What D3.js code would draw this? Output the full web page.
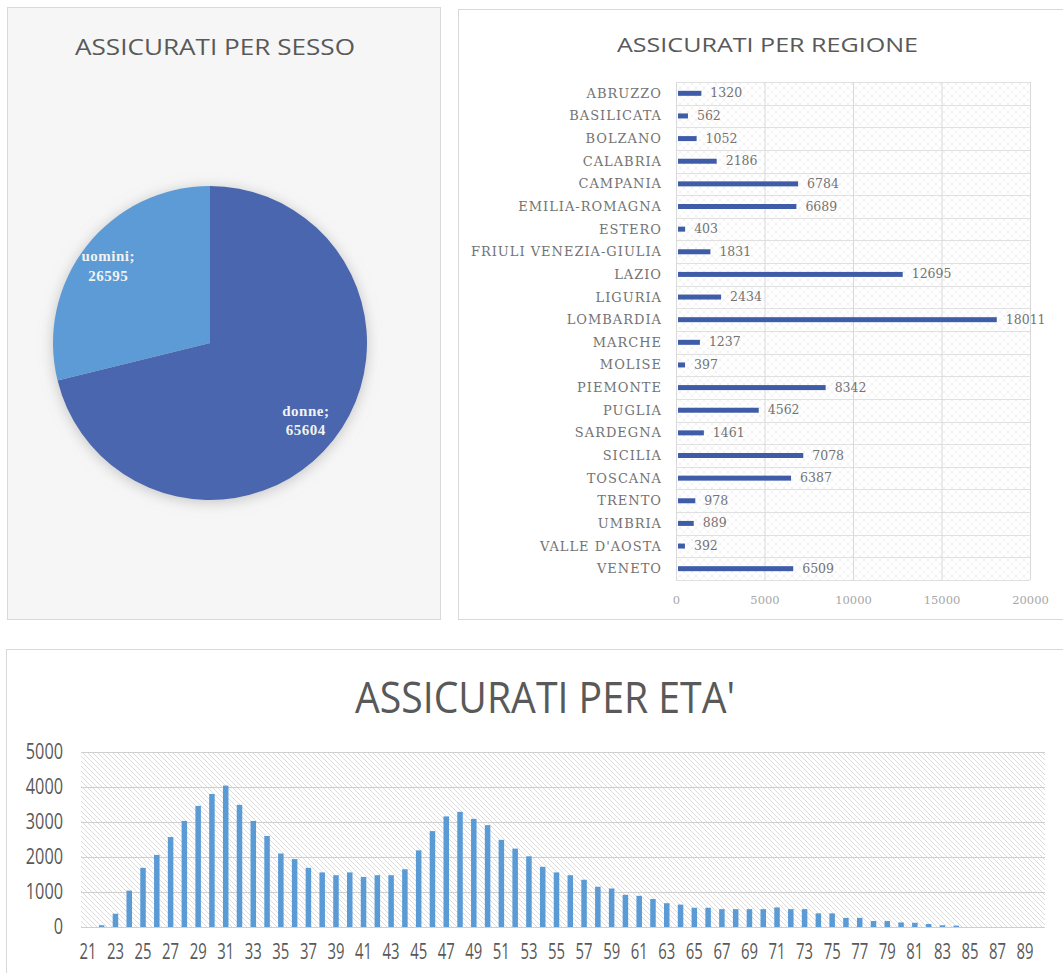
<!DOCTYPE html>
<html>
<head>
    <title>Assicurati</title>
    <script src="https://d3js.org/d3.v7.min.js"></script>
    <style>
        html, body {
            margin: 0;
            background: #fff;
            overflow: hidden;
        }
    </style>
</head>
<body>
    <svg id="chart" width="1063" height="973"></svg>

    <script>
        // --- data ---
        const sexLabels = ["donne", "uomini"];
        const sexValues = [65604, 26595];

        const regions = ["ABRUZZO", "BASILICATA", "BOLZANO", "CALABRIA", "CAMPANIA", "EMILIA-ROMAGNA",
            "ESTERO", "FRIULI VENEZIA-GIULIA", "LAZIO", "LIGURIA", "LOMBARDIA", "MARCHE", "MOLISE",
            "PIEMONTE", "PUGLIA", "SARDEGNA", "SICILIA", "TOSCANA", "TRENTO", "UMBRIA",
            "VALLE D'AOSTA", "VENETO"];
        const regionValues = [1320, 562, 1052, 2186, 6784, 6689, 403, 1831, 12695, 2434, 18011, 1237,
            397, 8342, 4562, 1461, 7078, 6387, 978, 889, 392, 6509];
        const regionTicks = [0, 5000, 10000, 15000, 20000];

        const ages = [21, 22, 23, 24, 25, 26, 27, 28, 29, 30, 31, 32, 33, 34, 35, 36, 37, 38, 39, 40,
            41, 42, 43, 44, 45, 46, 47, 48, 49, 50, 51, 52, 53, 54, 55, 56, 57, 58, 59, 60,
            61, 62, 63, 64, 65, 66, 67, 68, 69, 70, 71, 72, 73, 74, 75, 76, 77, 78, 79, 80,
            81, 82, 83, 84, 85, 86, 87, 88, 89];
        const ageValues = [0, 50, 380, 1040, 1690, 2060, 2570, 3030, 3460, 3800, 4040, 3490, 3030, 2600,
            2100, 1940, 1690, 1560, 1480, 1560, 1430, 1480, 1480, 1650, 2190, 2740, 3160, 3290, 3090,
            2910, 2490, 2240, 2020, 1720, 1560, 1480, 1350, 1150, 1100, 920, 890, 800, 680, 640, 550,
            550, 510, 510, 510, 510, 560, 510, 510, 390, 390, 260, 260, 170, 170, 130, 120, 85, 50,
            40, 0, 0, 0, 0, 0];
        const ageTicks = [0, 1000, 2000, 3000, 4000, 5000];

        const textColor = "#595959";
        const sansFont = "'Open Sans', sans-serif";
        const serifFont = "'DejaVu Serif', serif";

        const svg = d3.select("#chart");
        const defs = svg.append("defs");

        // pie shadow
        const shadow = defs.append("filter").attr("id", "pieShadow")
            .attr("x", "-20%").attr("y", "-20%").attr("width", "140%").attr("height", "140%");
        shadow.append("feDropShadow")
            .attr("dx", 0).attr("dy", 2)
            .attr("stdDeviation", 7)
            .attr("flood-color", "#9a9a9a")
            .attr("flood-opacity", 0.55);

        // dotted cross hatch for the region chart
        const cross = defs.append("pattern").attr("id", "crossHatch")
            .attr("patternUnits", "userSpaceOnUse").attr("width", 8).attr("height", 8);
        cross.append("path").attr("d", "M0,0 L8,8 M8,0 L0,8")
            .attr("stroke", "#e4e4e4").attr("stroke-width", 0.8).attr("stroke-dasharray", "1,1");

        // diagonal hatch for the age chart
        const diag = defs.append("pattern").attr("id", "diagHatch")
            .attr("patternUnits", "userSpaceOnUse").attr("width", 5).attr("height", 5);
        diag.append("path").attr("d", "M-1,-1 L6,6 M-1,4 L1,6 M4,-1 L6,1")
            .attr("stroke", "#dcdcdc").attr("stroke-width", 1);

        // ================= ASSICURATI PER SESSO =================
        svg.append("rect")
            .attr("x", 7.5).attr("y", 7.5).attr("width", 433).attr("height", 612)
            .attr("fill", "#f6f6f6").attr("stroke", "#d9d9d9");

        svg.append("text")
            .attr("x", 75).attr("y", 55)
            .attr("font-family", sansFont).attr("font-size", 22)
            .attr("textLength", 280).attr("lengthAdjust", "spacingAndGlyphs")
            .attr("fill", textColor)
            .text("ASSICURATI  PER SESSO");

        const pieR = 157;
        const pieG = svg.append("g").attr("transform", "translate(210,343)");
        const pie = d3.pie().sort(null).value(d => d.value);
        const sexData = pie(sexLabels.map((k, i) => ({label: k, value: sexValues[i]})));
        const sexColor = d3.scaleOrdinal().domain(sexLabels).range(["#4a66ae", "#5b9bd5"]);
        const arc = d3.arc().innerRadius(0).outerRadius(pieR);
        const labelArc = d3.arc().innerRadius(pieR * 0.8).outerRadius(pieR * 0.8);

        pieG.append("g").attr("filter", "url(#pieShadow)")
            .selectAll("path")
            .data(sexData)
            .join("path")
            .attr("d", arc)
            .attr("fill", d => sexColor(d.data.label));

        const sexLabel = pieG.selectAll(".slabel")
            .data(sexData)
            .join("text")
            .attr("class", "slabel")
            .attr("transform", d => `translate(${labelArc.centroid(d)})`)
            .attr("text-anchor", "middle")
            .attr("font-family", "'Liberation Serif', serif")
            .attr("font-weight", "bold")
            .attr("font-size", 15)
            .attr("letter-spacing", 0.5)
            .attr("fill", "#f2f2f2");
        sexLabel.append("tspan").attr("x", -3).attr("dy", "-0.3em").text(d => d.data.label + ";");
        sexLabel.append("tspan").attr("x", -3).attr("dy", "1.3em").text(d => d.data.value);

        // ================= ASSICURATI PER REGIONE =================
        svg.append("rect")
            .attr("x", 458.5).attr("y", 9.5).attr("width", 640).attr("height", 610)
            .attr("fill", "#fff").attr("stroke", "#d9d9d9");

        svg.append("text")
            .attr("x", 617).attr("y", 52)
            .attr("font-family", sansFont).attr("font-size", 20)
            .attr("textLength", 301).attr("lengthAdjust", "spacingAndGlyphs")
            .attr("fill", textColor)
            .text("ASSICURATI PER REGIONE");

        const rx = d3.scaleLinear().domain([0, 20000]).range([676, 1030]);
        const ry = d3.scaleBand().domain(regions).range([82, 580]);

        svg.append("rect")
            .attr("x", rx(0)).attr("y", ry.range()[0])
            .attr("width", rx(20000) - rx(0)).attr("height", ry.range()[1] - ry.range()[0])
            .attr("fill", "url(#crossHatch)");

        // row separators
        svg.append("g").selectAll("line")
            .data(regions.concat(["_end"]))
            .join("line")
            .attr("x1", rx(0)).attr("x2", rx(20000))
            .attr("y1", (d, i) => Math.round(ry.range()[0] + i * ry.step()) + 0.5)
            .attr("y2", (d, i) => Math.round(ry.range()[0] + i * ry.step()) + 0.5)
            .attr("stroke", "#e0e0e0");

        // vertical gridlines + ticks
        const rAxis = svg.append("g")
            .attr("transform", `translate(0,${ry.range()[1]})`)
            .call(d3.axisBottom(rx).tickValues(regionTicks).tickFormat(d3.format("d"))
                .tickSize(-(ry.range()[1] - ry.range()[0])).tickPadding(16));
        rAxis.select(".domain").remove();
        rAxis.selectAll(".tick line").attr("stroke", "#d9d9d9");
        rAxis.selectAll(".tick text")
            .attr("font-family", serifFont).attr("font-size", 11.5)
            .attr("fill", "#a6a6a6");

        svg.append("g").selectAll("rect")
            .data(regions)
            .join("rect")
            .attr("x", rx(0) + 2)
            .attr("y", d => ry(d) + ry.bandwidth() / 2 - 2.5)
            .attr("width", (d, i) => rx(regionValues[i]) - rx(0))
            .attr("height", 5)
            .attr("fill", "#3f5ca8");

        svg.append("g").selectAll("text")
            .data(regions)
            .join("text")
            .attr("x", (d, i) => rx(regionValues[i]) + 11)
            .attr("y", d => ry(d) + ry.bandwidth() / 2 + 4)
            .attr("font-family", serifFont).attr("font-size", 12.5)
            .attr("fill", "#737373")
            .text((d, i) => regionValues[i]);

        svg.append("g").selectAll("text")
            .data(regions)
            .join("text")
            .attr("x", 662)
            .attr("y", d => ry(d) + ry.bandwidth() / 2 + 4.5)
            .attr("text-anchor", "end")
            .attr("font-family", serifFont).attr("font-size", 13)
            .attr("letter-spacing", 1)
            .attr("fill", "#737373")
            .text(d => d);

        // ================= ASSICURATI PER ETA' =================
        svg.append("rect")
            .attr("x", 6.5).attr("y", 649.5).attr("width", 1100).attr("height", 360)
            .attr("fill", "#fff").attr("stroke", "#d9d9d9");

        svg.append("text")
            .attr("x", 355).attr("y", 713)
            .attr("font-family", sansFont).attr("font-size", 44)
            .attr("textLength", 380).attr("lengthAdjust", "spacingAndGlyphs")
            .attr("fill", textColor)
            .text("ASSICURATI PER ETA'");

        const ax = d3.scaleBand().domain(ages).range([81, 1032]).paddingInner(0.6).paddingOuter(0.3);
        const ay = d3.scaleLinear().domain([0, 5000]).range([927, 752]);

        svg.append("rect")
            .attr("x", 81).attr("y", ay(5000))
            .attr("width", 1045 - 81).attr("height", ay(0) - ay(5000))
            .attr("fill", "url(#diagHatch)");

        const yAxis = svg.append("g")
            .attr("transform", "translate(81,0)")
            .call(d3.axisLeft(ay).tickValues(ageTicks).tickFormat(d3.format("d"))
                .tickSize(-(1045 - 81)).tickPadding(18));
        yAxis.select(".domain").remove();
        yAxis.selectAll(".tick line").attr("stroke", "#cfcfcf");
        yAxis.selectAll(".tick text")
            .attr("font-family", sansFont).attr("font-size", 21)
            .attr("fill", textColor)
            .attr("textLength", d => String(d).length * 9.3)
            .attr("lengthAdjust", "spacingAndGlyphs");

        svg.append("g").selectAll("rect")
            .data(ages)
            .join("rect")
            .attr("x", d => ax(d))
            .attr("y", (d, i) => ay(ageValues[i]))
            .attr("width", ax.bandwidth())
            .attr("height", (d, i) => ay(0) - ay(ageValues[i]))
            .attr("fill", "#5b9bd5");

        const xAxis = svg.append("g")
            .attr("transform", `translate(0,${ay(0)})`)
            .call(d3.axisBottom(ax).tickValues(ages.filter(a => a % 2 === 1)).tickSize(0).tickPadding(17));
        xAxis.select(".domain").remove();
        xAxis.selectAll(".tick text")
            .attr("font-family", sansFont).attr("font-size", 21)
            .attr("fill", textColor)
            .attr("textLength", 17)
            .attr("lengthAdjust", "spacingAndGlyphs");
    </script>
</body>
</html>
